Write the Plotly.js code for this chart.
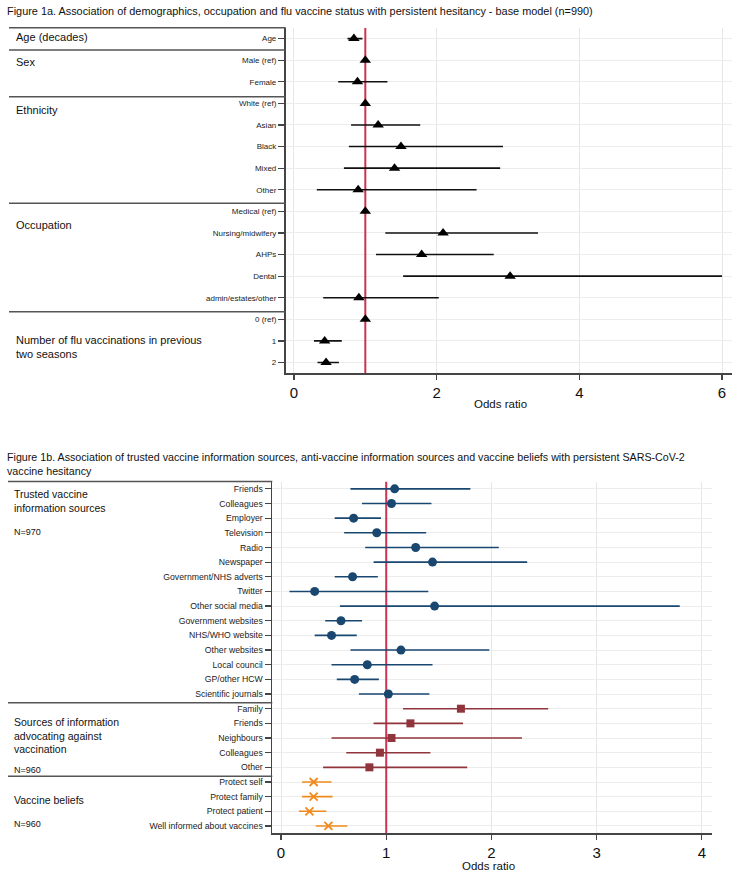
<!DOCTYPE html>
<html>
<head>
<meta charset="utf-8">
<script src="https://cdn.plot.ly/plotly-3.0.1.min.js"></script>
<style>html,body{margin:0;padding:0;background:#fff;}#chart{width:752px;height:875px;}</style>
</head>
<body>
<div id="chart"></div>
<script>
// ---------- Figure 1a data ----------
const topLabels = ["Age","Male (ref)","Female","White (ref)","Asian","Black","Mixed","Other",
  "Medical (ref)","Nursing/midwifery","AHPs","Dental","admin/estates/other","0 (ref)","1","2"];
const topOR = [0.84,1,0.89,1,1.18,1.50,1.41,0.90,1,2.09,1.79,3.03,0.91,1,0.43,0.45];
const topLo = [0.75,1,0.62,1,0.80,0.77,0.70,0.32,1,1.28,1.15,1.53,0.41,1,0.28,0.33];
const topHi = [0.96,1,1.31,1,1.77,2.93,2.89,2.56,1,3.42,2.80,6.00,2.03,1,0.67,0.63];
const topXTicks = [0,2,4,6];

// ---------- Figure 1b data ----------
const trustedLabels = ["Friends","Colleagues","Employer","Television","Radio","Newspaper",
  "Government/NHS adverts","Twitter","Other social media","Government websites","NHS/WHO website",
  "Other websites","Local council","GP/other HCW","Scientific journals"];
const trustedOR = [1.08,1.05,0.69,0.91,1.28,1.44,0.68,0.32,1.46,0.57,0.48,1.14,0.82,0.70,1.02];
const trustedLo = [0.66,0.77,0.51,0.60,0.80,0.88,0.51,0.08,0.56,0.42,0.32,0.66,0.48,0.53,0.74];
const trustedHi = [1.80,1.43,0.95,1.38,2.07,2.34,0.92,1.40,3.79,0.77,0.72,1.98,1.44,0.93,1.41];

const againstLabels = ["Family","Friends","Neighbours","Colleagues","Other"];
const againstOR = [1.71,1.23,1.05,0.94,0.84];
const againstLo = [1.16,0.88,0.48,0.62,0.40];
const againstHi = [2.54,1.73,2.29,1.42,1.77];

const beliefLabels = ["Protect self","Protect family","Protect patient","Well informed about vaccines"];
const beliefOR = [0.31,0.31,0.27,0.45];
const beliefLo = [0.20,0.20,0.17,0.33];
const beliefHi = [0.48,0.49,0.43,0.63];
const botXTicks = [0,1,2,3,4];
const nullOR = 1; // reference line (odds ratio = 1)

// ---------- helpers ----------
const W = 752, H = 875;
const px = x => x / W;
const py = y => 1 - y / H;
const FONT = "Liberation Sans, Arial, Helvetica, sans-serif";
const idx = (n, start) => Array.from({length: n}, (_, i) => i + start);

function ciTrace(ors, lo, hi, ys, axes, color, marker, thick) {
  return {
    type: "scatter", mode: "markers",
    x: ors, y: ys, xaxis: axes[0], yaxis: axes[1],
    marker: marker,
    error_x: {
      type: "data", symmetric: false,
      array: hi.map((h, i) => h - ors[i]),
      arrayminus: lo.map((l, i) => ors[i] - l),
      color: color, thickness: thick, width: 0
    },
    showlegend: false, hoverinfo: "x+y", cliponaxis: false
  };
}
function refTrace(n, axes, color) {
  return {type: "scatter", mode: "lines", x: [nullOR, nullOR], y: [-0.5, n - 0.5],
    xaxis: axes[0], yaxis: axes[1], line: {color: color, width: 2},
    showlegend: false, hoverinfo: "skip"};
}

const topY = idx(topLabels.length, 0);
const nT = trustedLabels.length, nA = againstLabels.length, nB = beliefLabels.length;
const trustedY = idx(nT, 0), againstY = idx(nA, nT), beliefY = idx(nB, nT + nA);
const botLabels = trustedLabels.concat(againstLabels, beliefLabels);

const BLUE = "#1a476f", MAROON = "#90353b", ORANGE = "#f08a1d", REF = "#cc3352";

const data = [
  refTrace(topLabels.length, ["x","y"], REF),
  refTrace(botLabels.length, ["x2","y2"], REF),
  ciTrace(topOR, topLo, topHi, topY, ["x","y"], "#111",
    {symbol: "triangle-up", size: 10, color: "#000"}, 1.6),
  ciTrace(trustedOR, trustedLo, trustedHi, trustedY, ["x2","y2"], BLUE,
    {symbol: "circle", size: 9, color: BLUE}, 1.6),
  ciTrace(againstOR, againstLo, againstHi, againstY, ["x2","y2"], MAROON,
    {symbol: "square", size: 8, color: MAROON}, 1.6),
  ciTrace(beliefOR, beliefLo, beliefHi, beliefY, ["x2","y2"], ORANGE,
    {symbol: "x-thin-open", size: 8, color: ORANGE, line: {color: ORANGE, width: 1.8}}, 1.6)
];

// axes geometry (pixels)
const gTop = {l: 285.7, r: 732, t: 27.8, b: 373.3};
const gBot = {l: 272.3, r: 711.7, t: 481.5, b: 833.3};

const gridC = "#e6e6e6", axC = "#444";
function xAxis(dom, range, ticks, anchor) {
  return {domain: [px(dom[0]), px(dom[1])], range: range, tickvals: ticks,
    ticktext: ticks.map(String), anchor: anchor,
    showgrid: true, gridcolor: gridC, gridwidth: 1, zeroline: false,
    showline: true, linecolor: axC, linewidth: 1.6,
    ticks: "outside", ticklen: 5, tickwidth: 1.2, tickcolor: axC,
    tickfont: {family: FONT, size: 15, color: "#111"}, fixedrange: true};
}
function yAxis(dom, n, labels, anchor, fs) {
  return {domain: [py(dom[1]), py(dom[0])], range: [n - 0.5, -0.5],
    tickvals: idx(n, 0), ticktext: labels, anchor: anchor,
    showgrid: true, gridcolor: "#ececec", gridwidth: 1, zeroline: false,
    showline: true, linecolor: axC, linewidth: 1.8,
    ticks: "outside", ticklen: 6, tickwidth: 1.2, tickcolor: axC,
    tickfont: {family: FONT, size: fs, color: "#222"}, fixedrange: true};
}

const shapes = [];
function sep(y, x0, x1) {
  shapes.push({type: "line", xref: "paper", yref: "paper",
    x0: px(x0), x1: px(x1), y0: py(y), y1: py(y),
    line: {color: "#555", width: 1.5}});
}
[27.8, 50, 96.7, 203.3, 311.7].forEach(y => sep(y, 9, gTop.l));
[481.5, 702.7, 776.3].forEach(y => sep(y, 8, gBot.l));

const annotations = [];
function txt(text, x, y, size, extra) {
  annotations.push(Object.assign({text: text, xref: "paper", yref: "paper",
    x: px(x), y: py(y), xanchor: "left", yanchor: "middle", showarrow: false, align: "left",
    font: {family: FONT, size: size, color: "#111"}}, extra || {}));
}
// titles
txt("Figure 1a. Association of demographics, occupation and flu vaccine status with persistent hesitancy - base model (n=990)", 5, 10.5, 10.9);
txt("Figure 1b. Association of trusted vaccine information sources, anti-vaccine information sources and vaccine beliefs with persistent SARS-CoV-2<br>vaccine hesitancy", 5, 464, 10.7);
// top group labels
txt("Age (decades)", 14, 37, 11);
txt("Sex", 14, 62.5, 11);
txt("Ethnicity", 14, 110, 11);
txt("Occupation", 14, 225, 11);
txt("Number of flu vaccinations in previous<br>two seasons", 14, 346.5, 11);
// bottom group labels
txt("Trusted vaccine<br>information sources", 12, 501, 10.5);
txt("N=970", 12, 531.5, 9);
txt("Sources of information<br>advocating against<br>vaccination", 12, 735.5, 10.5);
txt("N=960", 12, 770, 9);
txt("Vaccine beliefs", 12, 799.5, 10.5);
txt("N=960", 12, 824, 9);
// axis titles
txt("Odds ratio", (gTop.l + gTop.r) / 2 - 8, 404, 11.5, {xanchor: "center"});
txt("Odds ratio", (gBot.l + gBot.r) / 2 - 4, 866, 11.5, {xanchor: "center"});

const layout = {
  width: W, height: H, margin: {l: 0, r: 0, t: 0, b: 0},
  paper_bgcolor: "#fff", plot_bgcolor: "#fff",
  font: {family: FONT, color: "#111"},
  showlegend: false,
  xaxis: xAxis([gTop.l, gTop.r], [-0.116, 6.14], topXTicks, "y"),
  yaxis: yAxis([gTop.t, gTop.b], topLabels.length, topLabels, "x", 8),
  xaxis2: xAxis([gBot.l, gBot.r], [-0.083, 4.094], botXTicks, "y2"),
  yaxis2: yAxis([gBot.t, gBot.b], botLabels.length, botLabels, "x2", 8.7),
  shapes: shapes, annotations: annotations
};

Plotly.newPlot("chart", data, layout, {displayModeBar: false, staticPlot: true});
</script>
</body>
</html>
